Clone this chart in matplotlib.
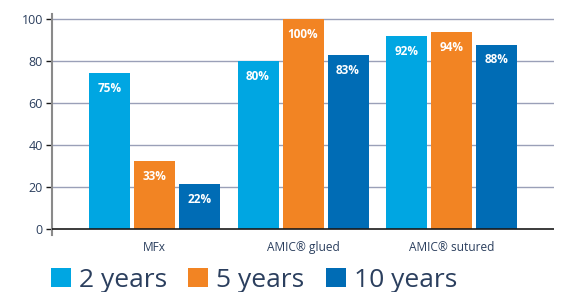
import matplotlib
matplotlib.use("Agg")
import matplotlib.pyplot as plt
from matplotlib.patches import Patch
import numpy as np

plt.rcParams['font.family'] = ['Open Sans', 'DejaVu Sans']

categories = ["MFx", "AMIC® glued", "AMIC® sutured"]
series_names = ["2 years", "5 years", "10 years"]
values_2y = [74.4, 79.8, 92.0]
values_5y = [32.5, 100.0, 93.8]
values_10y = [21.5, 82.9, 87.8]
labels_2y = ["75%", "80%", "92%"]
labels_5y = ["33%", "100%", "94%"]
labels_10y = ["22%", "83%", "88%"]
yticks = [0, 20, 40, 60, 80, 100]

colors = ["#00A6E2", "#F28423", "#006CB5"]
navy = "#2B3F5E"

fig = plt.figure(figsize=(5.63, 2.92), dpi=100)
ax = fig.add_axes([0.0924, 0.195, 0.984 - 0.0924, 0.952 - 0.195])

x = np.arange(len(categories))
w = 0.276
step = 0.303
series = [(values_2y, labels_2y), (values_5y, labels_5y), (values_10y, labels_10y)]
for i, (vals, labs) in enumerate(series):
    xs = x + (i - 1) * step
    ax.bar(xs, vals, width=w, color=colors[i], zorder=3)
    for xi, v, lab in zip(xs, vals, labs):
        ax.annotate(lab, (xi, v), xytext=(0, -11), textcoords="offset points",
                    ha="center", va="center", color="white", fontsize=8.5,
                    fontweight="bold", zorder=4)

ax.set_xlim(-0.69, 2.69)
ax.set_ylim(-2.9, 102.4)
ax.set_yticks(yticks)
ax.set_yticklabels([str(t) for t in yticks])
for t in yticks[1:]:
    ax.axhline(t, color="#9AA0B8", lw=1.0, zorder=1)
ax.axhline(0, color="#1A1A1A", lw=1.2, zorder=4)

ax.set_xticks(x)
ax.set_xticklabels(categories)
ax.tick_params(axis="x", length=0, pad=4, labelsize=8.6, labelcolor=navy)
ax.tick_params(axis="y", length=4.5, width=1, color="#1A1A1A", pad=2,
               labelsize=9, labelcolor=navy)

for s in ["top", "right", "bottom"]:
    ax.spines[s].set_visible(False)
ax.spines["left"].set_color("#8A8A8A")
ax.spines["left"].set_linewidth(1.5)

handles = [Patch(facecolor=c, edgecolor="none") for c in colors]
fig.legend(handles, series_names, loc="center left", bbox_to_anchor=(0.071, 0.04),
           ncol=3, frameon=False, fontsize=19, handlelength=0.76, handleheight=0.76,
           handletextpad=0.3, columnspacing=0.82, labelcolor=navy, borderaxespad=0)

fig.savefig("out.png", dpi=100)
